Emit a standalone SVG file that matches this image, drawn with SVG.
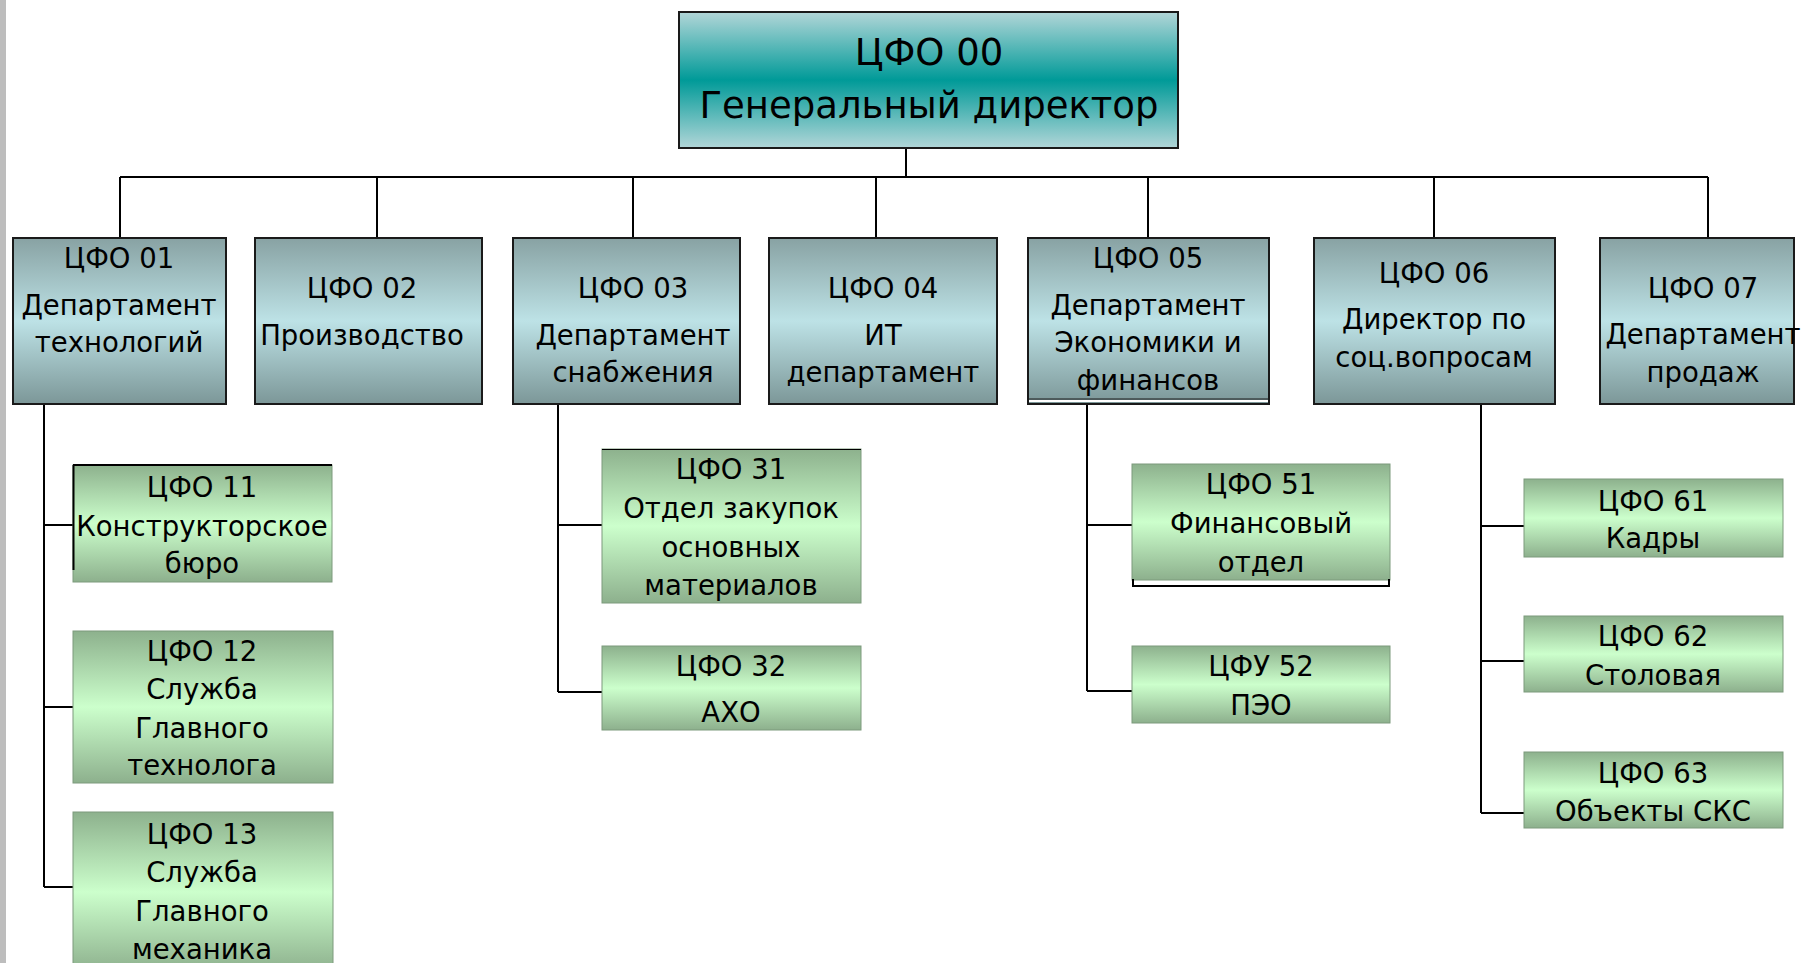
<svg xmlns="http://www.w3.org/2000/svg" width="1802" height="963" viewBox="0 0 1802 963">
<defs>
<linearGradient id="gTop" x1="0" y1="0" x2="0" y2="1">
<stop offset="0" stop-color="#b2d6d8"/><stop offset="0.5" stop-color="#009a98"/><stop offset="1" stop-color="#b2d6d8"/>
</linearGradient>
<linearGradient id="gL1" x1="0" y1="0" x2="0" y2="1">
<stop offset="0" stop-color="#88a2a3"/><stop offset="0.5" stop-color="#bde2e6"/><stop offset="1" stop-color="#7c9798"/>
</linearGradient>
<linearGradient id="gL2" x1="0" y1="0" x2="0" y2="1">
<stop offset="0" stop-color="#8db18d"/><stop offset="0.5" stop-color="#ccffcc"/><stop offset="1" stop-color="#8db08d"/>
</linearGradient>
</defs>
<style>
text{font-family:"DejaVu Sans","Liberation Sans",sans-serif;fill:#000;text-anchor:middle}
.t0{font-size:37px}
.t{font-size:27.5px}
.top{fill:url(#gTop);stroke:#1a1a1a;stroke-width:2}
.l1{fill:url(#gL1);stroke:#1a1a1a;stroke-width:2}
.l2{fill:url(#gL2);stroke:#7d9a7d;stroke-width:1}
.c{fill:none;stroke:#000;stroke-width:2}
</style>
<rect x="0" y="0" width="6" height="963" fill="#bdbdbd"/>
<g id="connectors">
<path class="c" d="M906 148V177M120 177H1708M120 177V238M377 177V238M633 177V238M876 177V238M1148 177V238M1434 177V238M1708 177V238"/>
<path class="c" d="M44 404V887M44 525H73M44 707H73M44 887H73"/>
<path class="c" d="M558 404V692M558 525H602M558 692H602"/>
<path class="c" d="M1087 404V691M1087 525H1132M1087 691H1132"/>
<path class="c" d="M1481 404V813M1481 526H1524M1481 661H1524M1481 813H1524"/>
</g>
<g id="n00"><rect class="top" x="679" y="12" width="499" height="136"/>
<text class="t0" x="929" y="65">ЦФО 00</text><text class="t0" x="929" y="118">Генеральный директор</text></g>
<g id="n01"><rect class="l1" x="13" y="238" width="213" height="166"/>
<text class="t" x="119" y="268">ЦФО 01</text><text class="t" x="119" y="315">Департамент</text><text class="t" x="119" y="352">технологий</text></g>
<g id="n02"><rect class="l1" x="255" y="238" width="227" height="166"/>
<text class="t" x="362" y="298">ЦФО 02</text><text class="t" x="362" y="345">Производство</text></g>
<g id="n03"><rect class="l1" x="513" y="238" width="227" height="166"/>
<text class="t" x="633" y="298">ЦФО 03</text><text class="t" x="633" y="345">Департамент</text><text class="t" x="633" y="382">снабжения</text></g>
<g id="n04"><rect class="l1" x="769" y="238" width="228" height="166"/>
<text class="t" x="883" y="298">ЦФО 04</text><text class="t" x="883" y="345">ИТ</text><text class="t" x="883" y="382">департамент</text></g>
<g id="n05"><rect class="l1" x="1028" y="238" width="241" height="166"/>
<line x1="1029" y1="401" x2="1268" y2="401" stroke="#fff" stroke-width="2"/>
<line x1="1029" y1="399" x2="1268" y2="399" stroke="#1a1a1a" stroke-width="1"/>
<text class="t" x="1148" y="268">ЦФО 05</text><text class="t" x="1148" y="315">Департамент</text><text class="t" x="1148" y="352">Экономики и</text><text class="t" x="1148" y="390">финансов</text></g>
<g id="n06"><rect class="l1" x="1314" y="238" width="241" height="166"/>
<text class="t" x="1434" y="283">ЦФО 06</text><text class="t" x="1434" y="329">Директор по</text><text class="t" x="1434" y="367">соц.вопросам</text></g>
<g id="n07"><rect class="l1" x="1600" y="238" width="194" height="166"/>
<text class="t" x="1703" y="298">ЦФО 07</text><text class="t" x="1703" y="344">Департамент</text><text class="t" x="1703" y="382">продаж</text></g>
<g id="n11"><rect class="l2" x="73" y="465" width="259" height="117"/>
<path d="M73 465H332M73.5 465V570" stroke="#000" stroke-width="2" fill="none"/>
<text class="t" x="202" y="497">ЦФО 11</text><text class="t" x="202" y="536">Конструкторское</text><text class="t" x="202" y="573">бюро</text></g>
<g id="n12"><rect class="l2" x="73" y="631" width="260" height="152"/>
<text class="t" x="202" y="661">ЦФО 12</text><text class="t" x="202" y="699">Служба</text><text class="t" x="202" y="738">Главного</text><text class="t" x="202" y="775">технолога</text></g>
<g id="n13"><rect class="l2" x="73" y="812" width="260" height="160"/>
<text class="t" x="202" y="844">ЦФО 13</text><text class="t" x="202" y="882">Служба</text><text class="t" x="202" y="921">Главного</text><text class="t" x="202" y="959">механика</text></g>
<g id="n31"><rect class="l2" x="602" y="449" width="259" height="154"/>
<line x1="602" y1="449.5" x2="861" y2="449.5" stroke="#000" stroke-width="1"/>
<text class="t" x="731" y="479">ЦФО 31</text><text class="t" x="731" y="518">Отдел закупок</text><text class="t" x="731" y="557">основных</text><text class="t" x="731" y="595">материалов</text></g>
<g id="n32"><rect class="l2" x="602" y="646" width="259" height="84"/>
<text class="t" x="731" y="676">ЦФО 32</text><text class="t" x="731" y="722">АХО</text></g>
<g id="n51"><rect class="l2" x="1132" y="464" width="258" height="116"/>
<path d="M1133 579V586H1389V579" stroke="#000" stroke-width="2" fill="none"/>
<text class="t" x="1261" y="494">ЦФО 51</text><text class="t" x="1261" y="533">Финансовый</text><text class="t" x="1261" y="572">отдел</text></g>
<g id="n52"><rect class="l2" x="1132" y="646" width="258" height="77"/>
<text class="t" x="1261" y="676">ЦФУ 52</text><text class="t" x="1261" y="715">ПЭО</text></g>
<g id="n61"><rect class="l2" x="1524" y="479" width="259" height="78"/>
<text class="t" x="1653" y="511">ЦФО 61</text><text class="t" x="1653" y="548">Кадры</text></g>
<g id="n62"><rect class="l2" x="1524" y="616" width="259" height="76"/>
<text class="t" x="1653" y="646">ЦФО 62</text><text class="t" x="1653" y="685">Столовая</text></g>
<g id="n63"><rect class="l2" x="1524" y="752" width="259" height="76"/>
<text class="t" x="1653" y="783">ЦФО 63</text><text class="t" x="1653" y="821">Объекты СКС</text></g>
</svg>
